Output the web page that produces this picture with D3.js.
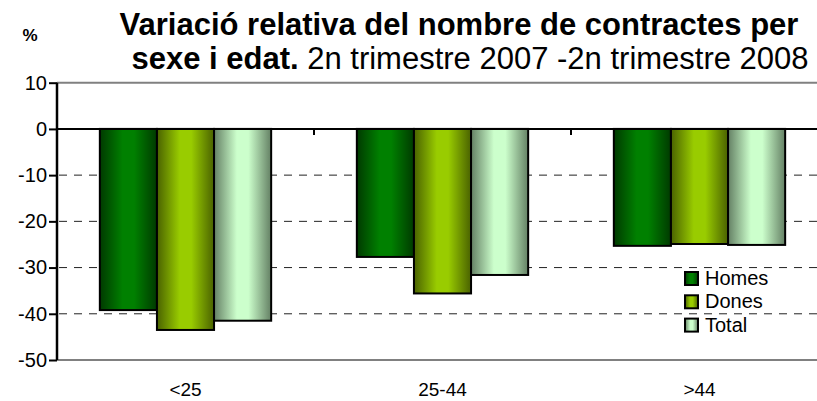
<!DOCTYPE html>
<html>
<head>
  <meta charset="UTF-8">
  <style>
    body { margin: 0; background: white; }
    svg { display: block; font-family: "Liberation Sans", Arial, Helvetica, sans-serif; }
    .title { font-size: 31px; fill: black; }
    .tick text { font-size: 20px; font-family: "Liberation Sans", Arial, sans-serif; }
  </style>
</head>
<body>
<svg></svg>
<script src="https://d3js.org/d3.v7.min.js"></script>
<script>

let width = 817, height = 401;

// data
const categories = ["<25", "25-44", ">44"];
const series = ["Homes", "Dones", "Total"];
const homes = [-39.2, -27.7, -25.3];
const dones = [-43.5, -35.6, -24.9];
const total = [-41.5, -31.6, -25.1];
const yTicks = [10, 0, -10, -20, -30, -40, -50];

const values = [homes, dones, total];

// gradient colours: edge, centre
const colors = [
  ["#003a00", "#008000"],
  ["#4a6200", "#99cc00"],
  ["#648064", "#ccffcc"]
];

let svg = d3.select("svg")
    .attr("width", width)
    .attr("height", height);

let defs = svg.append("defs");
colors.forEach((c, i) => {
  let g = defs.append("linearGradient")
    .attr("id", "grad" + i)
    .attr("x1", "0%").attr("x2", "100%")
    .attr("y1", "0%").attr("y2", "0%");
  g.append("stop").attr("offset", "0%").attr("stop-color", c[0]);
  g.append("stop").attr("offset", "40%").attr("stop-color", c[1]);
  g.append("stop").attr("offset", "60%").attr("stop-color", c[1]);
  g.append("stop").attr("offset", "100%").attr("stop-color", c[0]);
});

let plotL = 57, plotR = 828, plotT = 82.7, plotB = 360;

let x = d3.scaleBand()
  .domain(categories)
  .range([plotL, plotR])
  .padding(0);

// gap width 150% of a bar
let barW = x.bandwidth() / 4.5;
let xs = d3.scaleBand()
  .domain(series)
  .range([barW * 0.75, x.bandwidth() - barW * 0.75]);

let y = d3.scaleLinear()
  .domain([-50, 10])
  .range([plotB, plotT]);

// top and bottom border lines
[10, -50].forEach(v => {
  svg.append("line")
    .attr("x1", plotL).attr("x2", width)
    .attr("y1", y(v)).attr("y2", y(v))
    .attr("stroke", "#808080")
    .attr("stroke-width", 2);
});

// dashed grid
svg.append("g")
  .selectAll("line")
  .data(yTicks.filter(v => v < 0 && v > -50))
  .enter()
  .append("line")
  .attr("x1", plotL + 2).attr("x2", width)
  .attr("y1", d => y(d)).attr("y2", d => y(d))
  .attr("stroke", "#222")
  .attr("stroke-width", 1)
  .attr("stroke-dasharray", "8,7");

// bars
let groups = svg.append("g")
  .selectAll("g")
  .data(categories)
  .enter()
  .append("g")
  .attr("transform", d => "translate(" + x(d) + ",0)");

groups.selectAll("rect")
  .data((d, ci) => series.map((s, si) => ({ s: s, si: si, v: values[si][ci] })))
  .enter()
  .append("rect")
  .attr("x", d => xs(d.s))
  .attr("width", xs.bandwidth())
  .attr("y", d => y(0))
  .attr("height", d => y(d.v) - y(0))
  .attr("fill", d => "url(#grad" + d.si + ")")
  .attr("stroke", "black")
  .attr("stroke-width", 2);

// zero axis with category ticks
svg.append("line")
  .attr("x1", plotL).attr("x2", width)
  .attr("y1", y(0)).attr("y2", y(0))
  .attr("stroke", "black")
  .attr("stroke-width", 2);

svg.append("g")
  .selectAll("line")
  .data(categories.slice(1))
  .enter()
  .append("line")
  .attr("x1", d => x(d)).attr("x2", d => x(d))
  .attr("y1", y(0)).attr("y2", y(0) + 6)
  .attr("stroke", "black")
  .attr("stroke-width", 2);

// y axis
let yAxis = svg.append("g")
  .attr("transform", "translate(" + plotL + ",0)")
  .call(d3.axisLeft(y).tickValues(yTicks).tickSize(8).tickPadding(2).tickFormat(d => String(d)));
yAxis.attr("font-family", null).attr("font-size", null);
yAxis.select(".domain").attr("stroke-width", 2.5).attr("d", "M0," + plotT + "V" + plotB);
yAxis.selectAll(".tick line").attr("stroke-width", 2);
yAxis.selectAll(".tick text").attr("fill", "black");

// category labels
svg.append("g")
  .selectAll("text")
  .data(categories)
  .enter()
  .append("text")
  .attr("x", d => x(d) + x.bandwidth() / 2)
  .attr("y", 396)
  .attr("text-anchor", "middle")
  .style("font-size", "19px")
  .text(d => d);

// title
svg.append("text")
  .attr("class", "title")
  .attr("x", 459).attr("y", 35)
  .attr("text-anchor", "middle")
  .style("font-weight", "bold")
  .text("Variació relativa del nombre de contractes per");

let t2 = svg.append("text")
  .attr("class", "title")
  .attr("x", 470).attr("y", 69)
  .attr("text-anchor", "middle");
t2.append("tspan").style("font-weight", "bold").text("sexe i edat.");
t2.append("tspan").text(" 2n trimestre 2007 -2n trimestre 2008");

svg.append("text")
  .attr("x", 30).attr("y", 41)
  .attr("text-anchor", "middle")
  .style("font-weight", "bold")
  .style("font-size", "17px")
  .text("%");

// legend
let legend = svg.append("g")
  .attr("transform", "translate(685,272)");

series.forEach((s, i) => {
  legend.append("rect")
    .attr("x", 0).attr("y", i * 23.3)
    .attr("width", 13).attr("height", 13)
    .attr("fill", "url(#grad" + i + ")")
    .attr("stroke", "black")
    .attr("stroke-width", 2);
  legend.append("text")
    .attr("x", 20).attr("y", i * 23.3 + 13)
    .style("font-size", "20px")
    .text(s);
});

</script>
</body>
</html>
